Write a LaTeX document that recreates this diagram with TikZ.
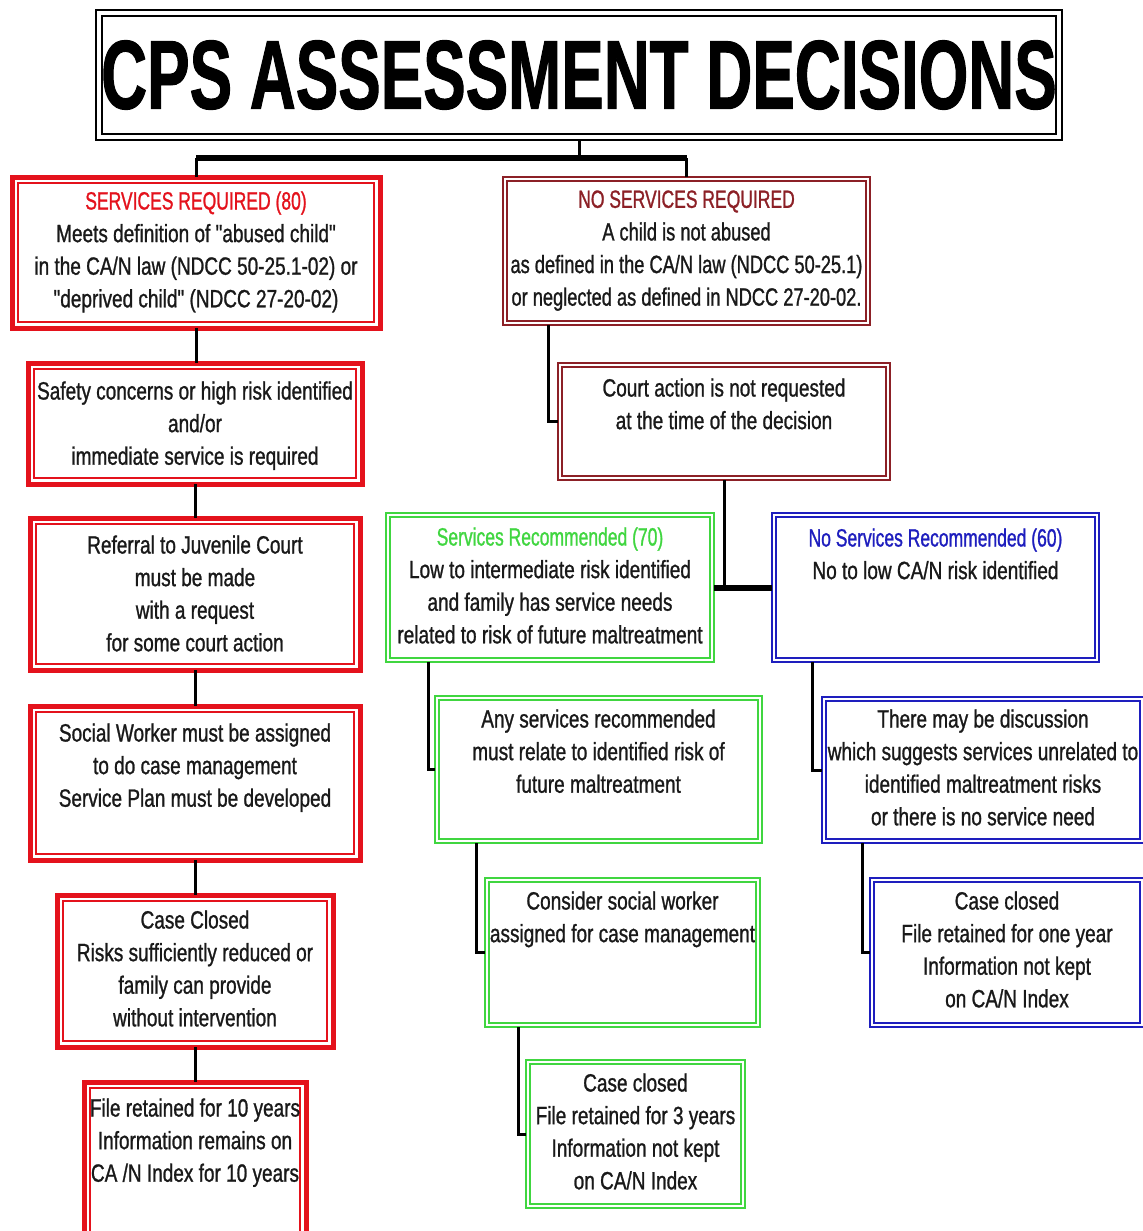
\documentclass[tikz,border=0pt]{standalone}
\usepackage{fontspec}
\setmainfont{Liberation Sans}
\newfontfamily\bodyf[FakeStretch=0.76,FakeBold=1]{Liberation Sans}
\newfontfamily\narrowf[FakeStretch=0.73,FakeBold=1]{Liberation Sans}
\newfontfamily\headf[FakeStretch=0.70,FakeBold=1]{Liberation Sans}
\newfontfamily\titlef[FakeStretch=0.65,FakeBold=1]{Liberation Sans}
\usetikzlibrary{fit,calc}
\definecolor{cred}{RGB}{228,18,28}
\definecolor{cdark}{RGB}{140,32,38}
\definecolor{cgreen}{RGB}{64,214,64}
\definecolor{cblue}{RGB}{30,30,190}
\definecolor{ctext}{RGB}{25,25,25}
\newcommand\mybox[8]{%
  \node[fit={(#5,#6)(#7,#8)}, inner sep=0pt, outer sep=0pt, #2] (#1) {};
  \draw[#3] ([shift={(#4,#4)}]#1.north west) rectangle ([shift={(-#4,-#4)}]#1.south east);}
\newcommand\hd[2]{{\headf\textcolor{#1}{#2}}}
\tikzset{
  redout/.style={draw=cred, line width=2.5pt},
  redin/.style={draw=cred, line width=1pt},
  darkout/.style={draw=cdark, line width=1pt},
  darkin/.style={draw=cdark, line width=0.6pt},
  greenout/.style={draw=cgreen, line width=1pt},
  greenin/.style={draw=cgreen, line width=0.6pt},
  blueout/.style={draw=cblue, line width=1pt},
  bluein/.style={draw=cblue, line width=0.6pt},
  titleline/.style={draw=black, line width=0.8pt},
  txt/.style={align=center, inner sep=0pt, anchor=north, text=ctext,
    font=\bodyf\fontsize{12.5}{16.3}\selectfont,
    execute at begin node={\rule{0pt}{13.5pt}}},
  conn/.style={draw=black, line width=1.5pt},
  bar/.style={draw=black, line width=3pt},
}
\begin{document}
\begin{tikzpicture}[x=0.5pt, y=-0.5pt]
\clip (0,0) rectangle (1143,1231);
\fill[white] (0,0) rectangle (1143,1231);

% title
\mybox{title}{titleline}{titleline}{6}{96}{10}{1062}{140}
\node[inner sep=0pt, font=\titlef\bfseries\fontsize{49}{55}\selectfont] (tt) at (title.center) {CPS ASSESSMENT DECISIONS};

% boxes
\mybox{red1}{redout}{redin}{6}{12}{177}{380}{328}
\mybox{red2}{redout}{redin}{6}{28}{363}{362}{484}
\mybox{red3}{redout}{redin}{6}{30}{518}{360}{670}
\mybox{red4}{redout}{redin}{6}{30}{706}{360}{860}
\mybox{red5}{redout}{redin}{6}{57}{895}{333}{1047}
\mybox{red6}{redout}{redin}{6}{84}{1082}{306}{1245}
\mybox{dr1}{darkout}{darkin}{4}{503}{177}{870}{325}
\mybox{dr2}{darkout}{darkin}{4}{558}{363}{890}{480}
\mybox{g1}{greenout}{greenin}{4}{386}{513}{714}{662}
\mybox{b1}{blueout}{bluein}{4}{772}{513}{1099}{662}
\mybox{g2}{greenout}{greenin}{4}{435}{696}{762}{843}
\mybox{b2}{blueout}{bluein}{4}{822}{697}{1144}{843}
\mybox{g3}{greenout}{greenin}{4}{485}{878}{760}{1027}
\mybox{b3}{blueout}{bluein}{4}{870}{878}{1144}{1027}
\mybox{g4}{greenout}{greenin}{4}{526}{1060}{745}{1208}

% texts
\node[txt] (tred1) at ($(red1.north)+(0,14)$) {\hd{cred}{SERVICES REQUIRED (80)}\\Meets definition of "abused child"\\in the CA/N law (NDCC 50-25.1-02) or\\"deprived child" (NDCC 27-20-02)};
\node[txt] (tred2) at ($(red2.north)+(0,18)$) {Safety concerns or high risk identified\\and/or\\immediate service is required};
\node[txt] (tred3) at ($(red3.north)+(0,17)$) {Referral to Juvenile Court\\must be made\\with a request\\for some court action};
\node[txt] (tred4) at ($(red4.north)+(0,17)$) {Social Worker must be assigned\\to do case management\\Service Plan must be developed};
\node[txt] (tred5) at ($(red5.north)+(0,15)$) {Case Closed\\Risks sufficiently reduced or\\family can provide\\without intervention};
\node[txt] (tred6) at ($(red6.north)+(0,16)$) {File retained for 10 years\\Information remains on\\CA /N Index for 10 years};
\node[txt, font=\narrowf\fontsize{12.5}{16.3}\selectfont] (tdr1) at ($(dr1.north)+(0,13)$) {\hd{cdark}{NO SERVICES REQUIRED}\\A child is not abused\\as defined in the CA/N law (NDCC 50-25.1)\\or neglected as defined in NDCC 27-20-02.};
\node[txt] (tdr2) at ($(dr2.north)+(0,15)$) {Court action is not requested\\at the time of the decision};
\node[txt] (tg1) at ($(g1.north)+(0,14)$) {\hd{cgreen}{Services Recommended (70)}\\Low to intermediate risk identified\\and family has service needs\\related to risk of future maltreatment};
\node[txt] (tb1) at ($(b1.north)+(0,15)$) {\hd{cblue}{No Services Recommended (60)}\\No to low CA/N risk identified};
\node[txt] (tg2) at ($(g2.north)+(0,13)$) {Any services recommended\\must relate to identified risk of\\future maltreatment};
\node[txt] (tb2) at ($(b2.north)+(0,12)$) {There may be discussion\\which suggests services unrelated to\\identified maltreatment risks\\or there is no service need};
\node[txt] (tg3) at ($(g3.north)+(0,13)$) {Consider social worker\\assigned for case management};
\node[txt] (tb3) at ($(b3.north)+(0,13)$) {Case closed\\File retained for one year\\Information not kept\\on CA/N Index};
\node[txt] (tg4) at ($(g4.north)+(0,13)$) {Case closed\\File retained for 3 years\\Information not kept\\on CA/N Index};

% connectors
\coordinate (tb) at ($(title.south)+(0,18)$);
\draw[conn] (title.south) -- (tb);
\draw[bar] (red1.north |- tb) -- (dr1.north |- tb);
\draw[conn] (red1.north |- tb) -- (red1.north);
\draw[conn] (dr1.north |- tb) -- (dr1.north);

\draw[conn] (red1.south) -- (red1.south |- red2.north);
\draw[conn] (red2.south) -- (red2.south |- red3.north);
\draw[conn] (red3.south) -- (red3.south |- red4.north);
\draw[conn] (red4.south) -- (red4.south |- red5.north);
\draw[conn] (red5.south) -- (red5.south |- red6.north);

\draw[conn] ($(dr1.south west)+(45,0)$) |- (dr2.west);
\draw[conn] (dr2.south) -- (dr2.south |- g1.east);
\draw[bar] (g1.east) -- (b1.west);

\draw[conn] ($(g1.south west)+(42,0)$) |- (g2.west);
\draw[conn] ($(g2.south west)+(41,0)$) |- (g3.west);
\draw[conn] ($(g3.south west)+(33,0)$) |- (g4.west);
\draw[conn] ($(b1.south west)+(40,0)$) |- (b2.west);
\draw[conn] ($(b2.south west)+(40,0)$) |- (b3.west);
\end{tikzpicture}
\end{document}
